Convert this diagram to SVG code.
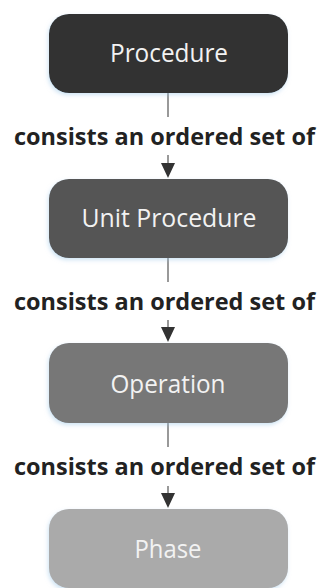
<svg xmlns="http://www.w3.org/2000/svg" width="324" height="588" viewBox="0 0 324 588">
<style>
.node-text{font-family:"Open Sans","Noto Sans","Liberation Sans",sans-serif;font-size:26px;fill:#f2f2f2;text-anchor:middle}
.lbl{font-family:"Open Sans","Noto Sans","Liberation Sans",sans-serif;font-weight:bold;font-size:24px;fill:#222}
.conn{stroke:#999;stroke-width:2;fill:none}
.arrow{fill:#333}
</style>
<defs>
<filter id="sh" x="-10%" y="-10%" width="120%" height="130%">
<feDropShadow dx="-1" dy="2" stdDeviation="2" flood-color="#9cc8e8" flood-opacity="0.5"/>
</filter>
</defs>
<rect width="324" height="588" fill="#fff"/>
<g id="connectors">
<line class="conn" x1="168" y1="93" x2="168" y2="117"/>
<line class="conn" x1="168" y1="155" x2="168" y2="164"/>
<polygon class="arrow" points="161,163 175,163 168,178"/>
<line class="conn" x1="168" y1="258" x2="168" y2="282"/>
<line class="conn" x1="168" y1="320" x2="168" y2="328"/>
<polygon class="arrow" points="161,327 175,327 168,342"/>
<line class="conn" x1="168" y1="423" x2="168" y2="447"/>
<line class="conn" x1="168" y1="486" x2="168" y2="494"/>
<polygon class="arrow" points="161,493 175,493 168,508"/>
<text class="lbl" x="14" y="145" textLength="301" lengthAdjust="spacingAndGlyphs">consists an ordered set of</text>
<text class="lbl" x="14" y="310" textLength="301" lengthAdjust="spacingAndGlyphs">consists an ordered set of</text>
<text class="lbl" x="14" y="475" textLength="301" lengthAdjust="spacingAndGlyphs">consists an ordered set of</text>
</g>
<g id="procedure">
<rect x="49" y="14" width="239" height="79" rx="20" fill="#333" filter="url(#sh)"/>
<text class="node-text" x="169" y="62" textLength="118" lengthAdjust="spacingAndGlyphs">Procedure</text>
</g>
<g id="unit-procedure">
<rect x="49" y="179" width="239" height="79" rx="20" fill="#555" filter="url(#sh)"/>
<text class="node-text" x="169" y="227" textLength="175" lengthAdjust="spacingAndGlyphs">Unit Procedure</text>
</g>
<g id="operation">
<rect x="49" y="343" width="239" height="80" rx="20" fill="#777" filter="url(#sh)"/>
<text class="node-text" x="168" y="393" textLength="115" lengthAdjust="spacingAndGlyphs">Operation</text>
</g>
<g id="phase">
<rect x="49" y="509" width="239" height="79" rx="20" fill="#aaa" filter="url(#sh)"/>
<text class="node-text" x="168" y="558" textLength="67" lengthAdjust="spacingAndGlyphs">Phase</text>
</g>
</svg>
